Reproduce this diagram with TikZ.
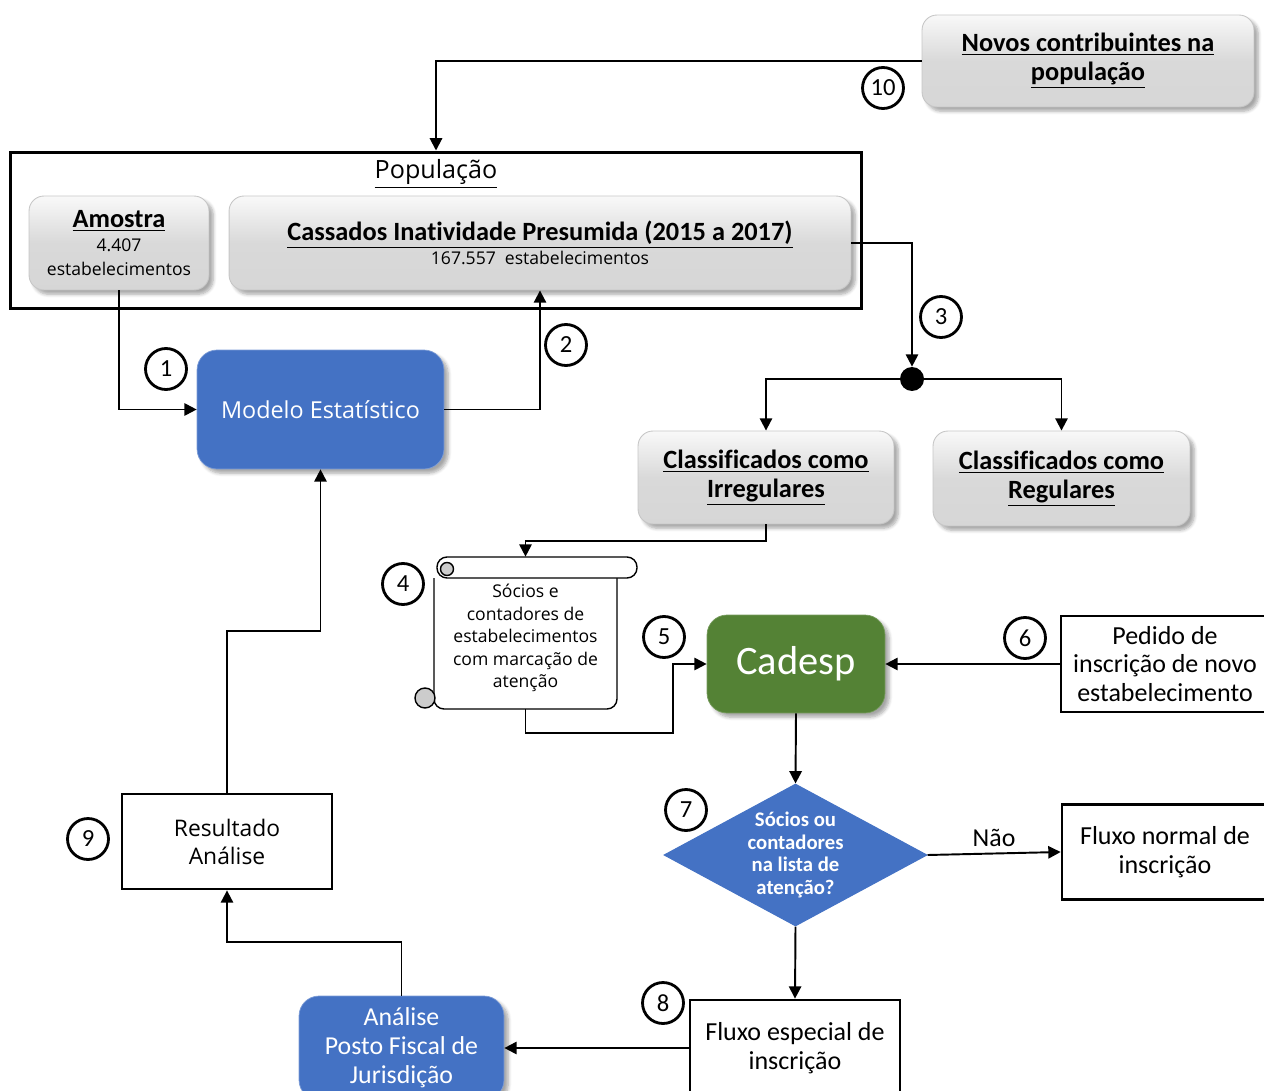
\documentclass[tikz,border=0pt]{standalone}
\usepackage{fontspec}
\setmainfont{Carlito}[Ligatures=NoCommon]
\newfontfamily\segoe{Open Sans}
\usepackage{xcolor}
\usepackage{tikz}
\usetikzlibrary{shapes.geometric, arrows.meta, positioning, shadows.blur}

\definecolor{azul}{RGB}{68,114,196}
\definecolor{verde}{RGB}{84,130,53}
\definecolor{cinza}{RGB}{217,217,217}

% small regular subtitle inside the grey boxes
\newcommand{\subtx}[1]{{\segoe\mdseries\fontsize{10}{13}\selectfont #1}}

\tikzset{
  seta/.style={line width=1.1pt, -{Triangle[length=7pt,width=7pt]}},
  quadro/.style={rectangle, draw, line width=1.7pt},
  cinzabox/.style={rectangle, rounded corners=0.3cm, draw=gray!45, line width=0.5pt,
    top color=gray!5, bottom color=gray!32, middle color=cinza,
    blur shadow={shadow blur steps=6, shadow opacity=35},
    align=center, font=\fontsize{15}{16.5}\selectfont\bfseries},
  corbox/.style={rectangle, rounded corners=0.4cm, text=white, align=center,
    blur shadow={shadow blur steps=6, shadow opacity=35}},
  caixa/.style={rectangle, draw, line width=1.6pt, fill=white, align=center,
    font=\fontsize{14.8}{16.4}\selectfont},
  passo/.style={circle, draw, line width=1.6pt, minimum size=0.82cm, inner sep=0pt,
    font=\fontsize{14}{14}\selectfont},
}

\begin{document}
\begin{tikzpicture}[x=0.02cm, y=-0.02cm]
\useasboundingbox (0,0) rectangle (1264,1091);
\clip (0,0) rectangle (1264,1091);

% Top box and population frame
\node[cinzabox, minimum width=6.64cm, minimum height=1.84cm] (novos) at (1088,61)
  {\underline{Novos contribuintes na}\\\underline{população}};
\node[quadro, minimum width=17.04cm, minimum height=3.14cm] (pop) at (436,230.5) {};
\node[font=\segoe\fontsize{14.3}{15}\selectfont] (poplbl) at (436,174) {\underline{População}};
\node[cinzabox, minimum width=3.6cm, minimum height=1.88cm] (amostra) at (119,243)
  {\underline{Amostra}\\[-3pt]\subtx{4.407}\\[-3pt]\subtx{estabelecimentos}};
\node[cinzabox, minimum width=12.44cm, minimum height=1.88cm] (cassados) at (540,243)
  {\underline{Cassados Inatividade Presumida (2015 a 2017)}\\[-3pt]\subtx{167.557~~estabelecimentos}};

% Model
\node[corbox, fill=azul, draw=azul!70!white, minimum width=4.94cm, minimum height=2.38cm,
  font=\segoe\fontsize{13.3}{15}\selectfont] (modelo) at (320.5,409.5) {Modelo Estatístico};

% Classification
\node[circle, fill, minimum size=0.48cm, inner sep=0pt] (dot) at (912,379) {};
\node[cinzabox, minimum width=5.12cm, minimum height=1.86cm] (irreg) at (766,477.5)
  {\underline{Classificados como}\\\underline{Irregulares}};
\node[cinzabox, minimum width=5.14cm, minimum height=1.9cm] (reg) at (1061.5,478.5)
  {\underline{Classificados como}\\\underline{Regulares}};

% Scroll with the attention list
\draw[line width=0.8pt, fill=white, rounded corners=0.2cm]
  (434,578) -- (434,709) -- (617,709) -- (617,578);
\draw[line width=0.8pt, fill=white, rounded corners=0.2cm] (437,557) rectangle (637,578);
\draw[line width=0.8pt, fill=gray!40] (447,569) circle[radius=0.13cm];
\draw[line width=0.8pt, fill=gray!40] (425,698) circle[radius=0.2cm];
\node[minimum width=4.46cm, minimum height=3.04cm] (lista) at (525.5,633) {};
\node[align=center, font=\segoe\fontsize{10}{12.8}\selectfont] (listatx) at (525.5,638)
  {Sócios e\\contadores de\\estabelecimentos\\com marcação de\\atenção};

% Registration flow
\node[corbox, fill=verde, draw=verde!80!white, minimum width=3.56cm, minimum height=1.96cm,
  font=\fontsize{23}{28}\selectfont] (cadesp) at (796,664) {Cadesp};
\node[caixa, minimum width=4.16cm, minimum height=1.92cm] (pedido) at (1165,664)
  {Pedido de\\inscrição de novo\\estabelecimento};
\node[diamond, aspect=1.85, fill=azul, draw=azul, line width=0.6pt, inner sep=0pt,
  minimum width=5.26cm, minimum height=2.84cm, text=white, align=center,
  font=\bfseries\fontsize{11.8}{12.9}\selectfont] (losango) at (795.5,855)
  {Sócios ou\\contadores\\na lista de\\atenção?};
\node[caixa, minimum width=4.12cm, minimum height=1.9cm] (normal) at (1165,852)
  {Fluxo normal de\\inscrição};
\node[caixa, minimum width=4.2cm, minimum height=1.92cm] (especial) at (795,1048)
  {Fluxo especial de\\inscrição};
\node[corbox, fill=azul, draw=azul!70!white, minimum width=4.1cm, minimum height=2.08cm,
  font=\fontsize{14.7}{16.4}\selectfont] (analise) at (401.5,1048)
  {Análise\\Posto Fiscal de\\Jurisdição};
\node[caixa, minimum width=4.2cm, minimum height=1.9cm,
  font=\segoe\fontsize{13}{16}\selectfont] (resultado) at (227,841.5)
  {Resultado\\Análise};

% Step numbers
\foreach \n/\x/\y in {1/166/369, 2/566/345, 3/941/317, 4/403/584, 5/664/637,
  6/1025/638, 7/686/810, 8/663/1003, 9/88/839, 10/883/88}
  \node[passo] (p\n) at (\x,\y) {\n};

% Connectors
\coordinate (d5) at (673,733);
\coordinate (d9) at (227,942);
\coordinate (volta) at (227,631);
\draw[seta] (novos.west) -| (pop.north);
\draw[seta] (amostra.south) |- (modelo.west);
\draw[seta] (modelo.east) -| (cassados.south);
\draw[seta] (cassados.east) -| (dot.north);
\draw[seta] (dot.west) -| (irreg.north);
\draw[seta] (dot.east) -| (reg.north);
\draw[seta] (irreg.south) -- ++(0,17) -| (lista.north);
\draw[seta] (lista.south) |- (d5) |- (cadesp.west);
\draw[seta] (pedido.west) -- (cadesp.east);
\draw[seta] (cadesp.south) -- (losango.north);
\draw[seta] (losango.east) -- node[above, font=\fontsize{14.7}{15}\selectfont] (nao) {Não} (normal.west);
\draw[seta] (losango.south) -- (especial.north);
\draw[seta] (especial.west) -- (analise.east);
\draw[seta] (analise.north) |- (d9) -- (resultado.south);
\draw[seta] (resultado.north) -- (volta) -| (modelo.south);
\end{tikzpicture}
\end{document}
